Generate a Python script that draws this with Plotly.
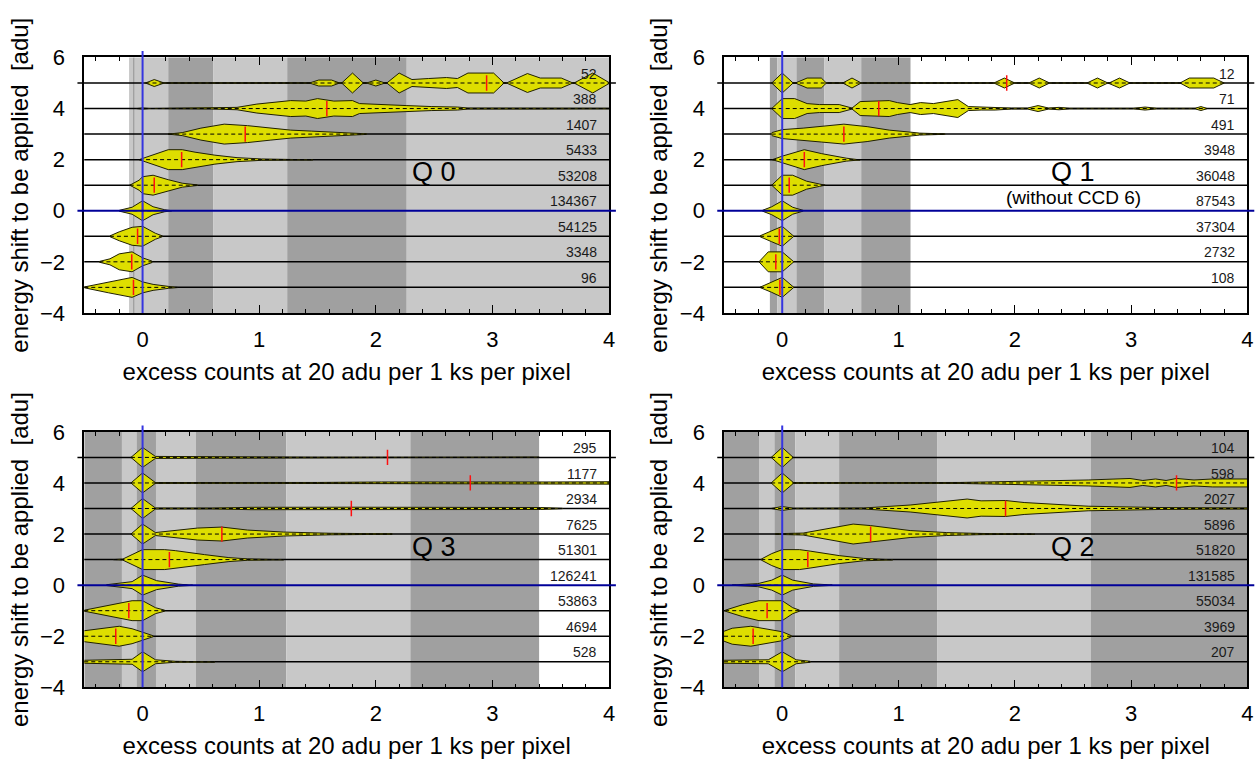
import plotly.graph_objects as go

# ---------------- data ----------------
LEVELS = [5, 4, 3, 2, 1, 0, -1, -2, -3]
X_RANGE = [-0.5, 4.0]
Y_RANGE = [-4, 6]
X_TICKS = [0, 1, 2, 3, 4]
Y_TICKS = [-4, -2, 0, 2, 4, 6]
X_TITLE = "excess counts at 20 adu per 1 ks per pixel"
Y_TITLE = "energy shift to be applied\u00a0 [adu]"

Q0_COUNTS = [52, 388, 1407, 5433, 53208, 134367, 54125, 3348, 96]
Q1_COUNTS = [12, 71, 491, 3948, 36048, 87543, 37304, 2732, 108]
Q3_COUNTS = [295, 1177, 2934, 7625, 51301, 126241, 53863, 4694, 528]
Q2_COUNTS = [104, 598, 2027, 5896, 51820, 131585, 55034, 3969, 207]

Q0_MEDIANS = [2.95, 1.58, 0.88, 0.335, 0.10, 0.0, -0.043, -0.093, -0.078]
Q1_MEDIANS = [1.93, 0.83, 0.53, 0.19, 0.06, 0.0, -0.025, -0.055, -0.02]
Q3_MEDIANS = [2.10, 2.81, 1.79, 0.68, 0.23, 0.0, -0.118, -0.23, 0.0]
Q2_MEDIANS = [0.0, 3.39, 1.92, 0.76, 0.22, 0.0, -0.13, -0.25, 0.0]

Q0_BAND_EDGES = [-0.116, -0.082, -0.067, 0.22, 0.605, 1.24, 2.265, 4.0]
Q0_BAND_SHADES = ["light", "dark", "light", "dark", "light", "dark", "light"]
Q1_BAND_EDGES = [-0.106, -0.043, 0.122, 0.361, 0.679, 1.103]
Q1_BAND_SHADES = ["dark", "light", "dark", "light", "dark"]
Q3_BAND_EDGES = [-0.5, -0.177, -0.052, 0.115, 0.456, 1.232, 2.296, 3.40]
Q3_BAND_SHADES = ["dark", "light", "dark", "light", "dark", "light", "dark"]
Q2_BAND_EDGES = [-0.5, -0.195, -0.067, 0.113, 0.489, 1.335, 2.652, 4.0]
Q2_BAND_SHADES = ["dark", "light", "dark", "light", "dark", "light", "dark"]

# violin outlines: x positions and relative half-widths (per level, top to bottom)
Q0_SHAPE_X = [
    [0.025, 0.10, 0.186, 1.43, 1.51, 1.62, 1.69, 1.707, 1.80, 1.893, 1.92, 2.0, 2.08, 2.094, 2.20, 2.31,
     2.45, 2.606, 2.70, 2.79, 3.01, 3.10, 3.12, 3.30, 3.41, 3.59, 3.69, 3.70, 3.86, 4.0],
    [-0.05, 0.0, 0.06, 0.59, 0.81, 0.98, 1.27, 1.40, 1.50, 1.64, 1.80, 1.86, 2.08, 2.26, 2.48, 2.70, 2.79,
     3.32, 3.79, 4.0],
    [0.22, 0.34, 0.50, 0.70, 0.90, 1.10, 1.27, 1.45, 1.64, 1.92],
    [-0.03, 0.05, 0.22, 0.34, 0.45, 0.62, 0.81, 1.02, 1.46],
    [-0.11, -0.03, 0.0, 0.09, 0.22, 0.34, 0.47],
    [-0.2, -0.09, 0.0, 0.09, 0.19, 0.25],
    [-0.28, -0.2, -0.09, 0.0, 0.11, 0.17],
    [-0.37, -0.28, -0.2, -0.09, 0.0, 0.08],
    [-0.5, -0.29, -0.09, 0.0, 0.09, 0.22, 0.30],
]
Q0_SHAPE_H = [
    [0, 0.35, 0, 0, 0.3, 0.3, 0, 0, 1.0, 0, 0, 0.3, 0, 0, 1.0, 0.35, 0.45, 0.55, 0.45, 1.0, 1.0, 0, 0,
     0.95, 0.5, 0.5, 0, 0, 1.0, 0.05],
    [0, 0.06, 0, 0.04, 0.12, 0.45, 0.8, 0.75, 1.0, 0.75, 0.8, 0.5, 0.35, 0.3, 0.2, 0.15, 0.05, 0.05, 0.05, 0.03],
    [0.0, 0.15, 0.6, 1.0, 0.85, 0.6, 0.4, 0.3, 0.2, 0.03],
    [0, 0.3, 1.0, 1.0, 0.75, 0.45, 0.2, 0.07, 0.02],
    [0, 0.5, 0.85, 1.0, 0.55, 0.2, 0.03],
    [0.04, 0.35, 1.0, 0.4, 0.1, 0.0],
    [0.04, 0.45, 0.9, 1.0, 0.3, 0.04],
    [0.04, 0.3, 0.8, 1.0, 0.4, 0.08],
    [0.04, 0.55, 1.0, 0.55, 0.3, 0.1, 0.02],
]

Q1_SHAPE_X = [
    [-0.09, 0.0, 0.094, 0.113, 0.214, 0.336, 0.38, 0.52, 0.60, 0.68, 1.82, 1.91, 2.00, 2.12, 2.21, 2.30,
     2.62, 2.71, 2.80, 2.81, 2.90, 2.99, 3.42, 3.50, 3.71, 3.80],
    [-0.09, 0.0, 0.107, 0.214, 0.32, 0.49, 0.60, 0.67, 0.92, 0.99, 1.10, 1.19, 1.30, 1.51, 1.60, 1.71, 1.83,
     1.97, 2.11, 2.20, 2.29, 2.38, 2.47, 3.02, 3.12, 3.22, 3.55, 3.60, 3.65],
    [-0.09, 0.0, 0.18, 0.34, 0.53, 0.73, 0.92, 1.10, 1.18, 1.40],
    [-0.085, 0.0, 0.19, 0.34, 0.55, 0.67],
    [-0.09, 0.0, 0.09, 0.21, 0.32, 0.37],
    [-0.17, -0.09, 0.0, 0.09, 0.18],
    [-0.19, -0.09, 0.0, 0.1],
    [-0.2, -0.12, 0.0, 0.1],
    [-0.19, -0.09, 0.0, 0.1],
]
Q1_SHAPE_H = [
    [0, 1.0, 0, 0, 0.5, 0.5, 0, 0, 0.5, 0, 0, 0.5, 0, 0, 0.5, 0, 0, 0.5, 0, 0, 0.5, 0, 0, 0.5, 0.5, 0],
    [0, 1.0, 1.0, 0.5, 0.4, 0.4, 0.05, 0.7, 0.8, 0.6, 0.4, 0.6, 0.5, 0.9, 0.2, 0.15, 0.15, 0.05, 0.05, 0.3,
     0.05, 0.12, 0.03, 0.03, 0.15, 0.03, 0.03, 0.2, 0.02],
    [0.15, 0.45, 0.6, 0.8, 1.0, 0.75, 0.4, 0.2, 0.1, 0.02],
    [0, 0.35, 1.0, 0.6, 0.15, 0.03],
    [0, 1.0, 1.0, 0.4, 0.12, 0.0],
    [0.04, 0.4, 1.0, 0.35, 0.04],
    [0.05, 0.55, 1.0, 0],
    [0.0, 1.0, 1.0, 0],
    [0.02, 0.5, 1.0, 0],
]

Q3_SHAPE_X = [
    [-0.1, 0.0, 0.11, 0.36, 0.45, 0.8, 1.5, 2.5, 3.0, 3.4],
    [-0.1, 0.0, 0.11, 0.5, 1.0, 1.5, 2.05, 2.57, 3.0, 3.5, 4.0],
    [-0.1, 0.0, 0.11, 0.6, 0.93, 1.2, 1.79, 2.3, 2.9, 3.41, 3.6],
    [-0.1, 0.0, 0.11, 0.47, 0.68, 0.9, 1.21, 1.61, 2.14],
    [-0.25, -0.17, -0.09, 0.0, 0.19, 0.28, 0.53, 0.74, 0.9, 1.21],
    [-0.31, -0.09, 0.0, 0.12, 0.31, 0.43],
    [-0.5, -0.31, -0.09, 0.0, 0.11, 0.19],
    [-0.5, -0.2, -0.09, 0.0, 0.09],
    [-0.5, -0.09, 0.0, 0.11, 0.28, 0.62],
]
Q3_SHAPE_H = [
    [0, 1.0, 0.1, 0.08, 0.03, 0.04, 0.02, 0.02, 0.03, 0.02],
    [0, 1.0, 0.04, 0.03, 0.03, 0.05, 0.1, 0.13, 0.1, 0.1, 0.12],
    [0, 1.0, 0.05, 0.04, 0.12, 0.14, 0.13, 0.12, 0.11, 0.1, 0.02],
    [0, 1.0, 0.15, 0.6, 0.7, 0.4, 0.2, 0.08, 0.02],
    [0.0, 0.05, 0.5, 1.0, 1.0, 0.9, 0.5, 0.2, 0.07, 0.02],
    [0.04, 0.35, 1.0, 0.45, 0.1, 0.02],
    [0.05, 0.5, 1.0, 1.0, 0.3, 0.05],
    [0.55, 1.0, 0.75, 0.4, 0.05],
    [0.15, 0.25, 1.0, 0.2, 0.05, 0.02],
]

Q2_SHAPE_X = [
    [-0.095, 0.0, 0.095],
    [-0.095, 0.0, 0.095, 0.18, 1.53, 2.02, 2.63, 2.99, 3.10, 3.21, 3.30, 3.39, 3.54, 3.70, 4.0],
    [-0.095, 0.0, 0.095, 0.70, 1.10, 1.34, 1.59, 1.71, 1.92, 2.08, 2.32, 2.63, 3.24, 4.0],
    [-0.06, 0.18, 0.61, 0.76, 1.10, 1.41, 1.71, 2.17],
    [-0.18, -0.09, 0.0, 0.15, 0.24, 0.49, 0.70, 0.95],
    [-0.43, -0.21, -0.09, 0.0, 0.09, 0.27, 0.43],
    [-0.49, -0.34, -0.2, 0.0, 0.09, 0.15],
    [-0.5, -0.43, -0.27, -0.12, 0.0, 0.08],
    [-0.5, -0.12, 0.0, 0.12, 0.24],
]
Q2_SHAPE_H = [
    [0, 1.0, 0],
    [0, 1.0, 0.05, 0.02, 0.05, 0.15, 0.3, 0.45, 0.25, 0.4, 0.25, 0.45, 0.3, 0.4, 0.4],
    [0, 0.2, 0.03, 0.05, 0.35, 0.68, 0.95, 0.77, 0.8, 0.6, 0.42, 0.23, 0.1, 0.05],
    [0.03, 0.1, 1.0, 0.85, 0.35, 0.15, 0.06, 0.02],
    [0.05, 0.6, 1.0, 1.0, 0.85, 0.4, 0.12, 0.03],
    [0.02, 0.15, 0.5, 1.0, 0.5, 0.12, 0.02],
    [0.05, 0.6, 1.0, 1.0, 0.3, 0.05],
    [0.5, 0.8, 1.0, 0.7, 0.45, 0.05],
    [0.15, 0.2, 1.0, 0.2, 0.05],
]

# ---------------- style ----------------
FONT = "Liberation Sans, Arial, Helvetica, sans-serif"
SHADE_COLORS = {"light": "#c8c8c8", "dark": "#a0a0a0"}
FILL = "#dede00"
HALF = 0.39
TICK_HALF = 0.3

# panel table: (name, subtitle, axis suffix, x domain, y domain, data)
PANELS = [
    ("Q 0", None, "", [0.0672, 0.4857], [0.595, 0.9388],
     Q0_COUNTS, Q0_MEDIANS, Q0_BAND_EDGES, Q0_BAND_SHADES, Q0_SHAPE_X, Q0_SHAPE_H),
    ("Q 1", "(without CCD 6)", "2", [0.5774, 0.9948], [0.595, 0.9388],
     Q1_COUNTS, Q1_MEDIANS, Q1_BAND_EDGES, Q1_BAND_SHADES, Q1_SHAPE_X, Q1_SHAPE_H),
    ("Q 3", None, "3", [0.0672, 0.4857], [0.0911, 0.4349],
     Q3_COUNTS, Q3_MEDIANS, Q3_BAND_EDGES, Q3_BAND_SHADES, Q3_SHAPE_X, Q3_SHAPE_H),
    ("Q 2", None, "4", [0.5774, 0.9948], [0.0911, 0.4349],
     Q2_COUNTS, Q2_MEDIANS, Q2_BAND_EDGES, Q2_BAND_SHADES, Q2_SHAPE_X, Q2_SHAPE_H),
]

fig = go.Figure()
shapes = []
annotations = []
layout_axes = {}

for (name, sub, sfx, xdom, ydom, counts, medians, edges, shades, sx, sh) in PANELS:
    xr = "x" + sfx
    yr = "y" + sfx
    # background bands
    for i, shade in enumerate(shades):
        shapes.append(dict(type="rect", xref=xr, yref=yr + " domain", x0=edges[i], x1=edges[i + 1],
                           y0=0, y1=1, fillcolor=SHADE_COLORS[shade], line=dict(width=0), layer="below"))
    yspan = Y_RANGE[1] - Y_RANGE[0]
    # horizontal level lines
    for lv in LEVELS:
        ext = 0.013 if lv == 5 else 0.0
        if lv == 0:
            continue
        shapes.append(dict(type="line", xref=xr + " domain", yref=yr, x0=-ext, x1=1 + ext, y0=lv, y1=lv,
                           line=dict(color="black", width=1.5), layer="below"))
    # violins
    for lv, xs, hs, m in zip(LEVELS, sx, sh, medians):
        up = [lv + HALF * h for h in hs]
        dn = [lv - HALF * h for h in hs]
        fig.add_trace(go.Scatter(x=xs + xs[::-1], y=up + dn[::-1], mode="lines", fill="toself",
                                 fillcolor=FILL, line=dict(color="#202000", width=1),
                                 xaxis=xr, yaxis=yr, hoverinfo="skip", showlegend=False))
        fig.add_trace(go.Scatter(x=[xs[0], xs[-1]], y=[lv, lv], mode="lines",
                                 line=dict(color="black", width=1, dash="4px,3px"),
                                 xaxis=xr, yaxis=yr, hoverinfo="skip", showlegend=False))
        fig.add_trace(go.Scatter(x=[m, m], y=[lv - TICK_HALF, lv + TICK_HALF], mode="lines",
                                 line=dict(color="#ff1010", width=1.5),
                                 xaxis=xr, yaxis=yr, hoverinfo="skip", showlegend=False))
    # zero lines on top
    shapes.append(dict(type="line", xref=xr, yref=yr + " domain", x0=0, x1=0, y0=0, y1=1.025,
                       line=dict(color="#3535e0", width=2), layer="above"))
    zy = (0 - Y_RANGE[0]) / yspan
    shapes.append(dict(type="line", xref=xr + " domain", yref=yr + " domain", x0=-0.013, x1=1.013,
                       y0=zy, y1=zy, line=dict(color="#000099", width=2), layer="above"))
    # count labels
    for lv, c in zip(LEVELS, counts):
        annotations.append(dict(xref=xr + " domain", yref=yr, x=0.98, y=lv + 0.37, text=str(c),
                                showarrow=False, xanchor="right", yanchor="middle",
                                font=dict(size=14, color="#1a1a1a", family=FONT)))
    # panel label
    annotations.append(dict(xref=xr, yref=yr, x=2.5, y=1.5, text=name, showarrow=False,
                            xanchor="center", yanchor="middle", font=dict(size=27, color="black", family=FONT)))
    if sub:
        annotations.append(dict(xref=xr, yref=yr, x=2.5, y=0.5, text=sub, showarrow=False,
                                xanchor="center", yanchor="middle", font=dict(size=19, color="black", family=FONT)))

    xkey = "xaxis" + sfx
    ykey = "yaxis" + sfx
    layout_axes[xkey] = dict(
        domain=xdom, range=X_RANGE, anchor=yr, tickvals=X_TICKS, ticks="inside", ticklen=8,
        tickwidth=1, tickcolor="black", minor=dict(ticks="inside", ticklen=4, dtick=0.2, tick0=0,
                                                   tickcolor="black", tickwidth=1),
        showline=True, linecolor="black", linewidth=1.5, mirror="allticks", showgrid=False,
        zeroline=False, tickfont=dict(size=22, family=FONT, color="black"), ticklabelstandoff=6,
        title=dict(text=X_TITLE, font=dict(size=24, family=FONT, color="black"), standoff=12),
    )
    layout_axes[ykey] = dict(
        domain=ydom, range=Y_RANGE, anchor=xr, tickvals=Y_TICKS, ticks="", showline=True,
        linecolor="black", linewidth=1.5, mirror=True, showgrid=False, zeroline=False,
        tickfont=dict(size=22, family=FONT, color="black"), ticklabelstandoff=13,
        title=dict(text=Y_TITLE, font=dict(size=24, family=FONT, color="black"), standoff=5),
    )

fig.update_layout(
    width=1260, height=768, margin=dict(l=0, r=0, t=0, b=0),
    paper_bgcolor="white", plot_bgcolor="white", showlegend=False,
    shapes=shapes, annotations=annotations, font=dict(family=FONT), **layout_axes,
)

fig.write_html("out.html", config={"displayModeBar": False},
               post_script="document.body.style.margin='0';")
